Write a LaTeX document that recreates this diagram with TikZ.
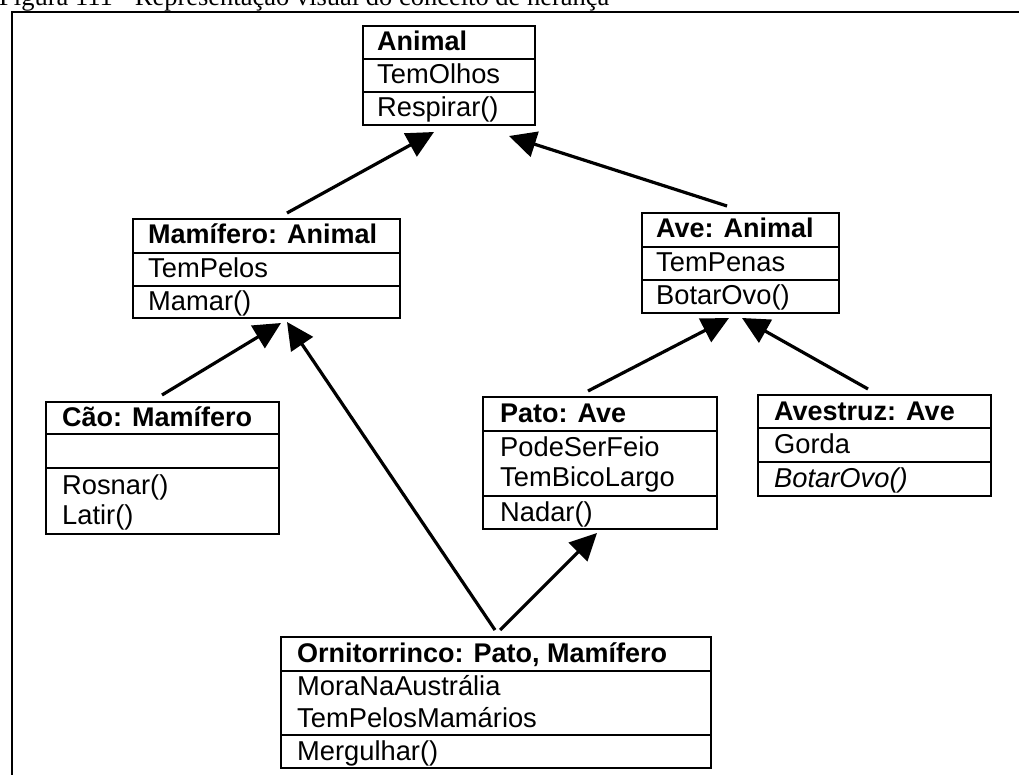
\documentclass[tikz,border=0pt]{standalone}
\usepackage{fontspec}
\setmainfont{Liberation Sans}
\newfontfamily\capfont{Liberation Serif}
\usetikzlibrary{arrows.meta,calc}

% \umlclass{name}{left}{top}{right}{bottom}{divider 1}{divider 2}
\newcommand\umlclass[7]{%
  \node[classbox, minimum width={(#4-#2)*1pt}, minimum height={(#5-#3)*1pt}] (#1) at (#2,#3) {};
  \draw[divider] (#1.west |- 0,#6) -- (#1.east |- 0,#6);
  \draw[divider] (#1.west |- 0,#7) -- (#1.east |- 0,#7);
}

\begin{document}
\begin{tikzpicture}[x=1pt,y=-1pt,
  classbox/.style={draw, line width=1.8pt, inner sep=0pt, outer sep=0pt, anchor=north west},
  divider/.style={line width=1.8pt},
  member/.style={anchor=base west, inner sep=0pt, font=\fontsize{27.3}{30}\selectfont},
  title/.style={anchor=base west, inner sep=0pt, font=\fontsize{27}{30}\selectfont\bfseries},
  inherit/.style={line width=3.2pt, -{Triangle[length=27pt,width=26pt]}},
  frame/.style={line width=2.2pt},
]
\useasboundingbox (0,0) rectangle (1019,775);
\clip (0,0) rectangle (1019,775);

% caption and outer frame
\node[anchor=base west, inner sep=0pt, font=\capfont\fontsize{26.5}{30}\selectfont] (caption) at (-1,6)
  {Figura 111 - Representação visual do conceito de herança};
\draw[frame] (12,790) -- (12,12) -- (1030,12);

% classes
\umlclass{animal}{363}{26}{535}{125}{59}{92}
\node[title]  (animalT)  at (377,51)  {Animal};
\node[member] (animalA1) at (377,84)  {TemOlhos};
\node[member] (animalM1) at (377,117) {Respirar()};

\umlclass{mam}{133}{219}{400}{318}{253}{286}
\node[title]  (mamT)  at (148,244) {Mamífero: Animal};
\node[member] (mamA1) at (148,278) {TemPelos};
\node[member] (mamM1) at (148,311) {Mamar()};

\umlclass{ave}{642}{213}{839}{313}{247}{280}
\node[title]  (aveT)  at (656,238) {Ave: Animal};
\node[member] (aveA1) at (656,272) {TemPenas};
\node[member] (aveM1) at (656,305) {BotarOvo()};

\umlclass{cao}{46}{402}{279}{534}{434}{468}
\node[title]  (caoT)  at (62,426) {Cão: Mamífero};
\node[member] (caoM1) at (62,494) {Rosnar()};
\node[member] (caoM2) at (62,524) {Latir()};

\umlclass{pato}{483}{397}{717}{529}{431}{496}
\node[title]  (patoT)  at (500,422) {Pato: Ave};
\node[member] (patoA1) at (500,456) {PodeSerFeio};
\node[member] (patoA2) at (500,486) {TemBicoLargo};
\node[member] (patoM1) at (500,521) {Nadar()};

\umlclass{avest}{758}{395}{991}{496}{428}{462}
\node[title]  (avestT)  at (774,420) {Avestruz: Ave};
\node[member] (avestA1) at (774,453) {Gorda};
\node[member] (avestM1) at (774,487) {\itshape BotarOvo()};

\umlclass{orni}{281}{637}{711}{768}{671}{735}
\node[title]  (orniT)  at (297,662) {Ornitorrinco: Pato, Mamífero};
\node[member] (orniA1) at (297,695) {MoraNaAustrália};
\node[member] (orniA2) at (297,727) {TemPelosMamários};
\node[member] (orniM1) at (297,760) {Mergulhar()};

% ends of the inheritance arrows
\coordinate (mamUp)    at (287,213);
\coordinate (animalL)  at (434,132);
\coordinate (aveUp)    at (727,206);
\coordinate (animalR)  at (509,136);
\coordinate (caoUp)    at (162,395);
\coordinate (mamL)     at (281,323);
\coordinate (orniUpL)  at (495,630);
\coordinate (mamR)     at (287,322);
\coordinate (patoUp)   at (588,391);
\coordinate (aveL)     at (729,318);
\coordinate (avestUp)  at (868,389);
\coordinate (aveR)     at (742,318);
\coordinate (orniUpR)  at (500,630);
\coordinate (patoLow)  at (597,533);

% inheritance
\draw[inherit] (mamUp)   -- (animalL);
\draw[inherit] (aveUp)   -- (animalR);
\draw[inherit] (caoUp)   -- (mamL);
\draw[inherit] (orniUpL) -- (mamR);
\draw[inherit] (patoUp)  -- (aveL);
\draw[inherit] (avestUp) -- (aveR);
\draw[inherit] (orniUpR) -- (patoLow);
\end{tikzpicture}
\end{document}
